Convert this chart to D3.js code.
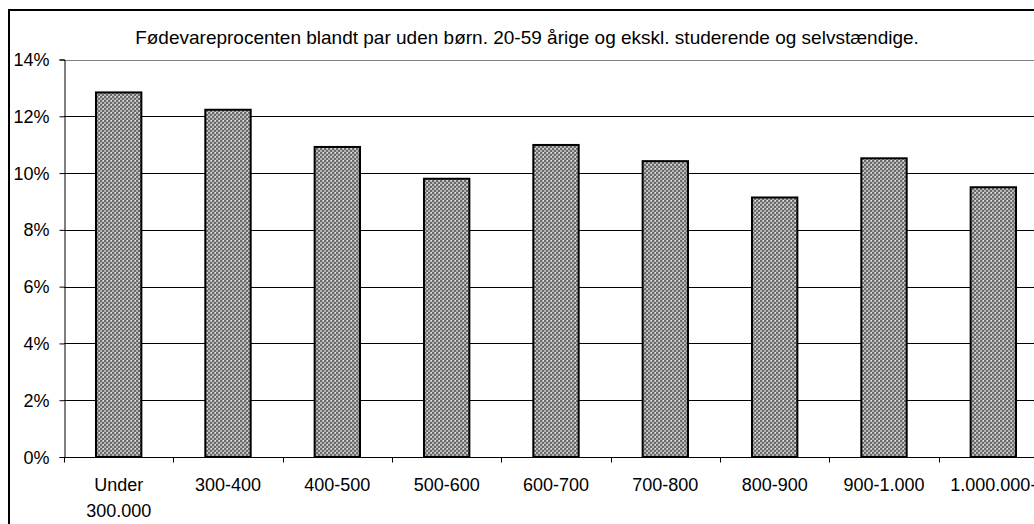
<!DOCTYPE html>
<html lang="da">
<head>
  <meta charset="utf-8">
  <title>Fødevareprocenten</title>
  <script src="https://d3js.org/d3.v7.min.js"></script>
  <style>
    body { margin: 0; background: #fff; }
    svg text { font-family: "Liberation Sans", Arial, sans-serif; fill: #000; }
  </style>
</head>
<body>
<svg width="1034" height="524"></svg>
<script>
  // data
  var categories = ["Under 300.000", "300-400", "400-500", "500-600", "600-700",
                    "700-800", "800-900", "900-1.000", "1.000.000-"];
  var values = [12.84, 12.23, 10.92, 9.8, 10.99, 10.42, 9.14, 10.52, 9.5];
  var yTicks = [0, 2, 4, 6, 8, 10, 12, 14];
  var title = "Fødevareprocenten blandt par uden børn. 20-59 årige og ekskl. studerende og selvstændige.";

  // note: "top" is taken by window.top, so use plot* names
  var svg = d3.select("svg"),
    plotLeft = 64, plotRight = 1048, plotTop = 59.5, plotBottom = 457;

  // crosshatch fill like the old spreadsheet pattern
  var pat = svg.append("defs").append("pattern")
    .attr("id", "hatch")
    .attr("patternUnits", "userSpaceOnUse")
    .attr("width", 4).attr("height", 4);
  pat.append("rect").attr("width", 4).attr("height", 4).attr("fill", "#b4b4b4");
  pat.append("rect").attr("width", 2).attr("height", 2).attr("fill", "#6a6a6a");
  pat.append("rect").attr("x", 2).attr("y", 2).attr("width", 2).attr("height", 2).attr("fill", "#6a6a6a");
  pat.append("rect").attr("x", 3).attr("y", 0).attr("width", 1).attr("height", 1).attr("fill", "#e8e8e8");

  var x = d3.scaleBand().domain(categories).range([plotLeft, plotRight])
    .paddingInner(0.585).paddingOuter(0.2925);
  var y = d3.scaleLinear().domain([0, 14]).range([plotBottom, plotTop]);

  // chart border
  svg.append("rect")
    .attr("x", 9).attr("y", 10).attr("width", 1100).attr("height", 600)
    .attr("fill", "none").attr("stroke", "#000").attr("stroke-width", 2);

  svg.append("text")
    .attr("x", 527).attr("y", 44)
    .attr("text-anchor", "middle")
    .style("font-size", "19px")
    .text(title);

  // gridlines
  svg.append("g").selectAll("line")
    .data(yTicks.filter(d => d > 0))
    .join("line")
    .attr("x1", plotLeft).attr("x2", plotRight)
    .attr("y1", d => Math.round(y(d)) + 0.5).attr("y2", d => Math.round(y(d)) + 0.5)
    .attr("stroke", d => d === 14 ? "#808080" : "#000");

  // bars
  svg.append("g").selectAll("rect")
    .data(values)
    .join("rect")
    .attr("x", (d, i) => x(categories[i]))
    .attr("y", d => y(d))
    .attr("width", x.bandwidth())
    .attr("height", d => plotBottom - y(d))
    .attr("fill", "url(#hatch)")
    .attr("stroke", "#000")
    .attr("stroke-width", 2);

  // y axis
  var yAxis = svg.append("g")
    .attr("transform", "translate(" + (plotLeft + 0.5) + ",0)")
    .call(d3.axisLeft(y).tickValues(yTicks).tickSize(5).tickPadding(10)
      .tickFormat(d => d + "%"));
  yAxis.select(".domain").attr("stroke", "#000");
  yAxis.selectAll("text").style("font-size", "18px").attr("dy", "0.34em");

  // x axis with ticks between categories
  var xg = svg.append("g").attr("transform", "translate(0," + (plotBottom + 0.5) + ")");
  xg.append("line").attr("x1", plotLeft).attr("x2", plotRight).attr("stroke", "#000");
  xg.selectAll(".tk")
    .data(d3.range(categories.length + 1))
    .join("line")
    .attr("class", "tk")
    .attr("x1", i => Math.round(plotLeft + i * x.step()) + 0.5)
    .attr("x2", i => Math.round(plotLeft + i * x.step()) + 0.5)
    .attr("y1", 0).attr("y2", 5)
    .attr("stroke", "#000");

  xg.selectAll(".lbl")
    .data(categories)
    .join("text")
    .attr("class", "lbl")
    .attr("text-anchor", "middle")
    .style("font-size", "18px")
    .attr("transform", d => "translate(" + (x(d) + x.bandwidth() / 2) + ",33.5)")
    .each(function (d) {
      var parts = d === "Under 300.000" ? ["Under", "300.000"] : [d];
      d3.select(this).selectAll("tspan")
        .data(parts)
        .join("tspan")
        .attr("x", 0)
        .attr("dy", (p, j) => j === 0 ? 0 : 26)
        .text(p => p);
    });
</script>
</body>
</html>
